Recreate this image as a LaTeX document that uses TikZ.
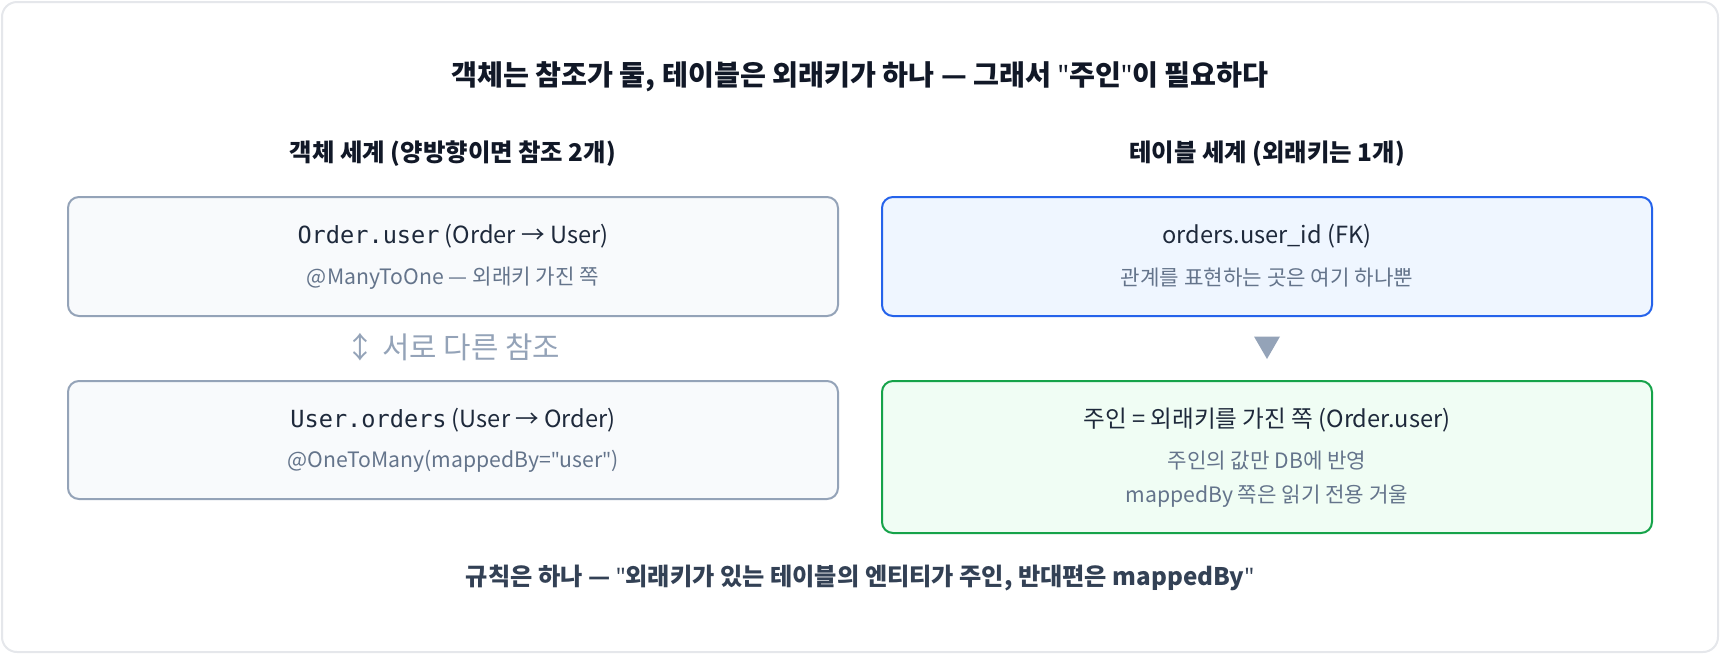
\documentclass[tikz,border=0pt]{standalone}
\usepackage{fontspec}
\setmainfont{Noto Sans CJK KR}
\newfontfamily\codefont{DejaVu Sans Mono}
\newfontfamily\latinfont{Noto Sans}
\newcommand{\dq}{{\latinfont"}}
\usetikzlibrary{shapes.geometric}
\definecolor{titlecol}{HTML}{111827}
\definecolor{textcol}{HTML}{1E293B}
\definecolor{subcol}{HTML}{64748B}
\definecolor{notecol}{HTML}{334155}
\definecolor{slateline}{HTML}{94A3B8}
\definecolor{slatefill}{HTML}{F8FAFC}
\definecolor{blueline}{HTML}{2563EB}
\definecolor{bluefill}{HTML}{EFF6FF}
\definecolor{greenline}{HTML}{16A34A}
\definecolor{greenfill}{HTML}{F0FDF4}
\definecolor{frameline}{HTML}{E5E7EB}
\tikzset{
  objbox/.style={draw=slateline, fill=slatefill, line width=1pt, rounded corners=5.5pt},
  fkbox/.style={draw=blueline, fill=bluefill, line width=1pt, rounded corners=5.5pt},
  ownerbox/.style={draw=greenline, fill=greenfill, line width=1pt, rounded corners=5.5pt},
  maintext/.style={text=textcol, font=\fontsize{11.8}{14}\selectfont},
  subtext/.style={text=subcol, font=\fontsize{10.6}{12}\selectfont},
  headtext/.style={text=titlecol, font=\bfseries\fontsize{12.2}{14}\selectfont},
}
\begin{document}
\begin{tikzpicture}[x=0.5pt, y=-0.5pt]
		%%%%% START %%%%%
		\useasboundingbox (0, 0) rectangle (1720, 654);
		\draw[draw=frameline, fill=white, line width=1pt, rounded corners=7.5pt] (2, 2) rectangle (1718, 652);
		
		\node[text=titlecol, font=\bfseries\fontsize{14.1}{16}\selectfont] (title) at (860, 77) {객체는 참조가 둘, 테이블은 외래키가 하나 — 그래서 \dq 주인\dq 이 필요하다};
		
		\node[headtext] (objhead) at (453, 154) {객체 세계 (양방향이면 참조 2개)};
		\node[headtext] (tblhead) at (1267, 154) {테이블 세계 (외래키는 1개)};
		
		% object side
		\draw[objbox] (68, 197) rectangle (838, 316);
		\node[maintext] (ordUser) at (453, 236) {{\codefont Order.user} (Order → User)};
		\node[subtext] (ordUserNote) at (453, 278) {@ManyToOne — 외래키 가진 쪽};
		
		\node[text=slateline, font=\fontsize{14.9}{17}\selectfont] (diffRef) at (453, 347) {↕ 서로 다른 참조};
		
		\draw[objbox] (68, 381) rectangle (838, 499);
		\node[maintext] (userOrd) at (453, 420) {{\codefont User.orders} (User → Order)};
		\node[subtext] (userOrdNote) at (453, 461) {@OneToMany(mappedBy=\dq user\dq)};
		
		% table side
		\draw[fkbox] (882, 197) rectangle (1652, 316);
		\node[maintext] (fkCol) at (1267, 236) {orders.user\_id (FK)};
		\node[subtext] (fkNote) at (1267, 278) {관계를 표현하는 곳은 여기 하나뿐};
		
		\node[regular polygon, regular polygon sides=3, shape border rotate=180, fill=slateline, inner sep=0pt, minimum size=15pt] (down) at (1267, 344) {};
		
		\draw[ownerbox] (882, 381) rectangle (1652, 533);
		\node[maintext] (owner) at (1267, 420) {주인 = 외래키를 가진 쪽 (Order.user)};
		\node[subtext] (ownerNote1) at (1267, 461) {주인의 값만 DB에 반영};
		\node[subtext] (ownerNote2) at (1267, 496) {mappedBy 쪽은 읽기 전용 거울};
		
		\node[text=notecol, font=\bfseries\fontsize{12.1}{14}\selectfont] (rule) at (860, 578) {규칙은 하나 — \dq 외래키가 있는 테이블의 엔티티가 주인, 반대편은 mappedBy\dq};
		%%%%% END %%%%%
\end{tikzpicture}
\end{document}
